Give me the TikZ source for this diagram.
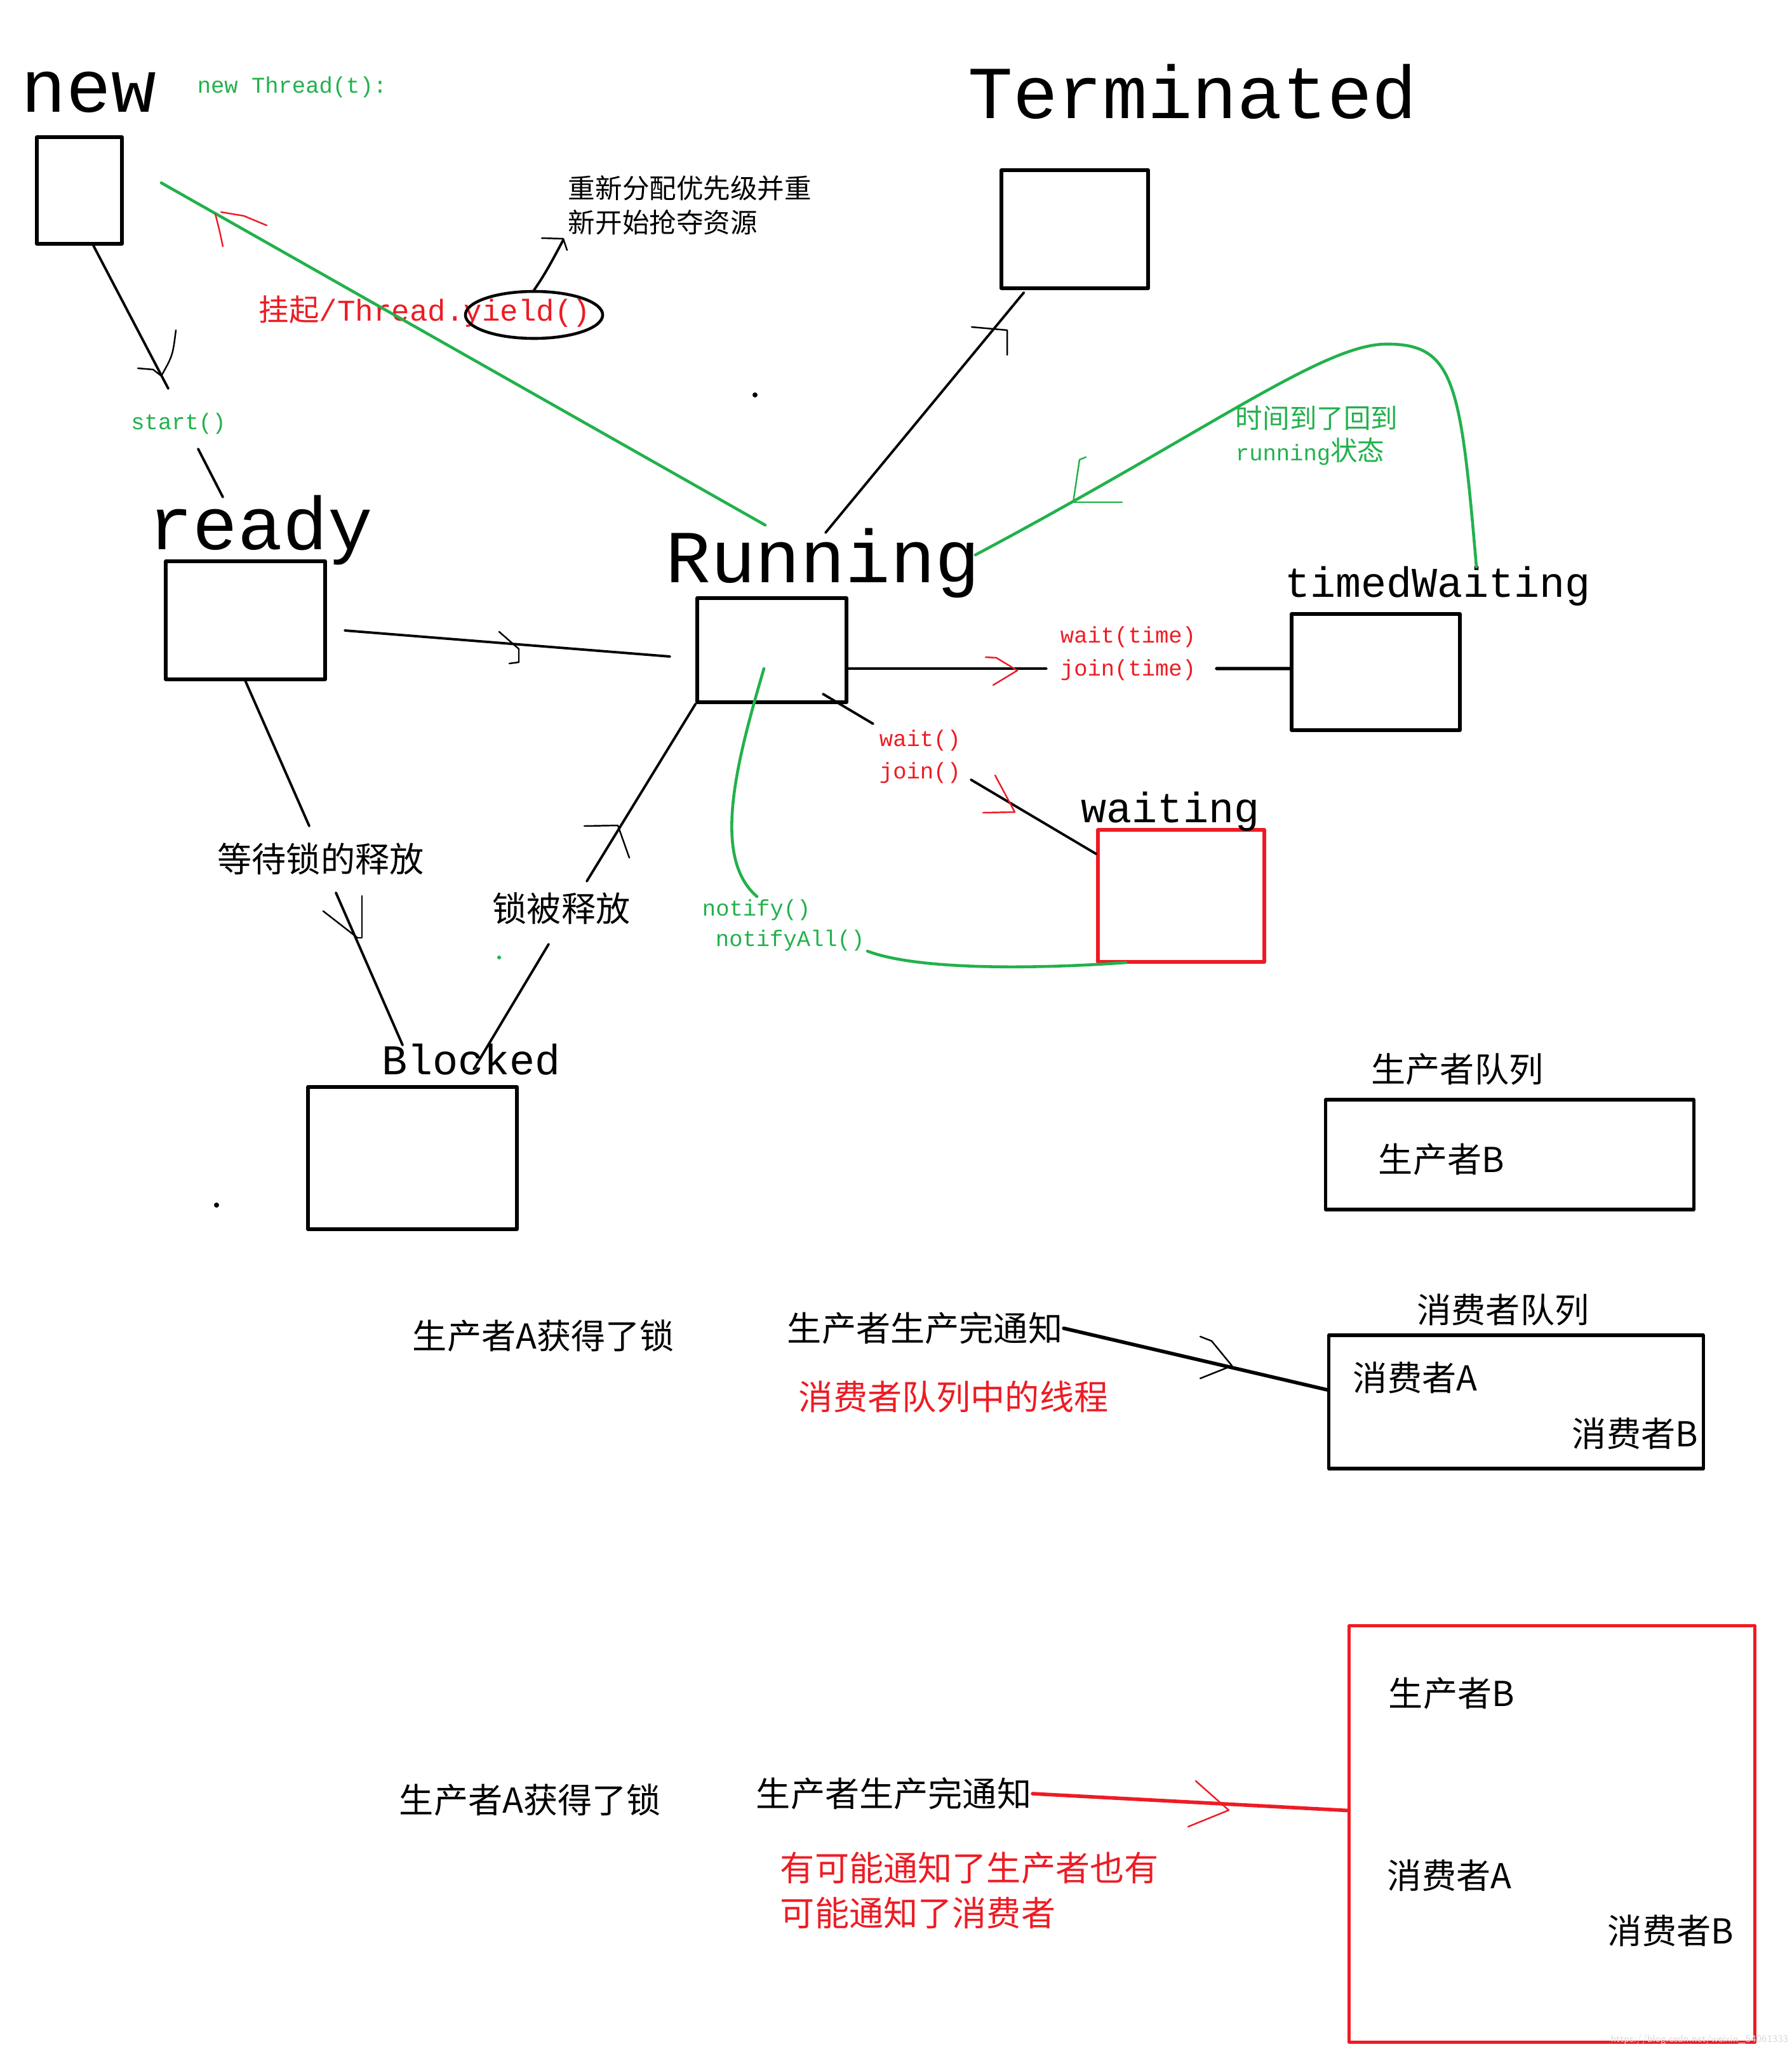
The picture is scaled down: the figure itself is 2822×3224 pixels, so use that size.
\documentclass[tikz,border=0pt]{standalone}
\usepackage{fontspec}
\setmainfont{Liberation Mono}
\newfontfamily\cjk{Noto Sans CJK SC}
\usetikzlibrary{shapes.geometric}
\definecolor{pgreen}{HTML}{22B14C}
\definecolor{pred}{HTML}{ED1C24}

\begin{document}
\begin{tikzpicture}[x=0.01cm,y=-0.01cm,line width=1.1pt,line cap=round,line join=round,
  box/.style={draw,line width=1.5pt,inner sep=0pt},
  redbox/.style={box,draw=pred},
  lbl/.style={inner sep=0pt},
  big/.style={lbl,font=\fontsize{33.5}{40}\selectfont},
  mid/.style={lbl,font=\fontsize{19}{23}\selectfont},
  tiny/.style={lbl,font=\fontsize{10.1}{12}\selectfont},
  hanzi/.style={lbl,font=\cjk\fontsize{15.4}{18}\selectfont},
  hanzis/.style={lbl,font=\cjk\fontsize{12.1}{15}\selectfont},
  gline/.style={draw=pgreen,line width=1.3pt},
  hand/.style={line width=0.7pt},
  ]
\useasboundingbox[fill=white] (0,0) rectangle (2822,3224);

%% states
\node[box,minimum width=1.34cm,minimum height=1.68cm] (new) at (125,300) {};
\node[box,minimum width=2.51cm,minimum height=1.86cm] (ready) at (386.5,977) {};
\node[box,minimum width=2.35cm,minimum height=1.64cm] (run) at (1215.5,1024) {};
\node[box,minimum width=2.31cm,minimum height=1.86cm] (term) at (1692.5,361) {};
\node[box,minimum width=2.65cm,minimum height=1.83cm] (timed) at (2166.5,1058.5) {};
\node[redbox,minimum width=2.62cm,minimum height=2.08cm] (wbox) at (1860,1411) {};
\node[box,minimum width=3.29cm,minimum height=2.24cm] (blocked) at (649.5,1824) {};

\node[big,anchor=base] (newlbl) at (140,176) {new};
\node[big,anchor=base] (termlbl) at (1878,186) {Terminated};
\node[big,anchor=base] (readylbl) at (410,865) {ready};
\node[big,anchor=base] (runlbl) at (1296,917) {Running};
\node[mid,anchor=base] (timedlbl) at (2264,940) {timedWaiting};
\node[mid,anchor=base] (wlbl) at (1843,1295) {waiting};
\node[mid,anchor=base] (blockedlbl) at (742,1692) {Blocked};

%% small labels
\node[tiny,text=pgreen] (newcall) at (460,137) {new Thread(t):};
\node[tiny,text=pgreen] (start) at (281,667) {start()};
\node[tiny,text=pred,anchor=west] (waitt) at (1668,1003) {wait(time)};
\node[tiny,text=pred,anchor=west] (joint) at (1668,1055) {join(time)};
\node[tiny,text=pred,anchor=west] (waitc) at (1383,1166) {wait()};
\node[tiny,text=pred,anchor=west] (joinc) at (1383,1217) {join()};
\node[tiny,text=pgreen,anchor=west] (notify) at (1104,1433) {notify()};
\node[tiny,text=pgreen,anchor=west] (notifyall) at (1125,1481) {notifyAll()};
\node[hanzis,text=pgreen,anchor=west] (timeup) at (1944,658) {时间到了回到};
\node[tiny,text=pgreen,anchor=west] (backrun) at (1944,711) {running{\cjk\fontsize{12.1}{15}\selectfont 状态}};
\node[hanzis,anchor=west] (regrab1) at (893,296) {重新分配优先级并重};
\node[hanzis,anchor=west] (regrab2) at (893,350) {新开始抢夺资源};
\node[lbl,text=pred,anchor=west,font=\fontsize{13.5}{16}\selectfont] (yield) at (406,490) {{\cjk 挂起}/Thread.yield()};
\node[draw,ellipse,line width=1.3pt,minimum width=2.16cm,minimum height=0.74cm] (ring) at (841,496) {};
\node[hanzi] (waitlock) at (505,1353) {等待锁的释放};
\node[hanzi] (released) at (884,1431) {锁被释放};

%% queues
\node[box,minimum width=5.79cm,minimum height=1.73cm] (prodq) at (2377.5,1818.5) {};
\node[box,minimum width=5.89cm,minimum height=2.10cm] (consq) at (2387.5,2208) {};
\node[redbox,minimum width=6.38cm,minimum height=6.55cm] (allq) at (2444,2888.5) {};
\node[hanzi] (prodqlbl) at (2295,1684) {生产者队列};
\node[hanzi,anchor=west] (prodB) at (2169,1826) {生产者B};
\node[hanzi,anchor=west] (prodA) at (648,2104) {生产者A获得了锁};
\node[hanzi,anchor=west] (done) at (1238,2092) {生产者生产完通知};
\node[hanzi,anchor=west,text=pred] (inq) at (1256,2200) {消费者队列中的线程};
\node[hanzi] (consqlbl) at (2367,2063) {消费者队列};
\node[hanzi,anchor=west] (consA) at (2129,2170) {消费者A};
\node[hanzi,anchor=west] (consB) at (2474,2258) {消费者B};
\node[hanzi,anchor=west] (prodA2) at (627,2835) {生产者A获得了锁};
\node[hanzi,anchor=west] (done2) at (1189,2825) {生产者生产完通知};
\node[hanzi,anchor=west,text=pred] (maybe1) at (1227,2942) {有可能通知了生产者也有};
\node[hanzi,anchor=west,text=pred] (maybe2) at (1227,3013) {可能通知了消费者};
\node[hanzi,anchor=west] (prodB2) at (2185,2667) {生产者B};
\node[hanzi,anchor=west] (consA2) at (2183,2954) {消费者A};
\node[hanzi,anchor=west] (consB2) at (2530,3041) {消费者B};

%% free ends
\coordinate (c1) at (265,612);
\coordinate (c2) at (312,707);
\coordinate (c3) at (351,783);
\coordinate (g1) at (254,288);
\coordinate (g2) at (1205,827);
\coordinate (c4) at (1300,839);
\coordinate (c5) at (543,993);
\coordinate (c6) at (1055,1034);
\coordinate (c7) at (487,1301);
\coordinate (c8) at (529,1406);
\coordinate (c9) at (634,1646);
\coordinate (c10) at (924,1388);
\coordinate (c11) at (864,1487);
\coordinate (c12) at (746,1684);
\coordinate (c13) at (1648,1053);
\coordinate (c14) at (1916,1053);
\coordinate (c15) at (1296,1093);
\coordinate (c16) at (1375,1140);
\coordinate (c17) at (1529,1228);
\coordinate (g3) at (1203,1053);
\coordinate (g4) at (1192,1412);
\coordinate (g5) at (1366,1498);
\coordinate (g6) at (1773,1516);
\coordinate (g7) at (2325,893);
\coordinate (g8) at (2180,542);
\coordinate (g9) at (1536,874);

%% connectors
\draw ([xshift=0.22cm]new.south) -- (c1);
\draw (c2) -- (c3);
\draw[gline] (g1) -- (g2);
\draw (c4) -- ([xshift=0.38cm,yshift=-0.04cm]term.south west);
\draw (c5) -- (c6);
\draw (ready.south) -- (c7);
\draw (c8) -- (c9);
\draw (run.south west) -- (c10);
\draw (c11) -- (c12);
\draw ([yshift=-0.29cm]run.east) -- (c13);
\draw[line width=1.5pt] (c14) -- ([yshift=0.055cm]timed.west);
\draw (c15) -- (c16);
\draw (c17) -- ([yshift=0.66cm]wbox.west);
\draw[gline] (g3) .. controls (1160,1200) and (1120,1350) .. (g4);
\draw[gline] (g5) .. controls (1450,1530) and (1650,1525) .. (g6);
\draw[gline] (g7) .. controls (2300,600) and (2290,540) .. (g8)
  .. controls (2080,545) and (1900,680) .. (g9);
\draw[line width=1.6pt] (done.east) -- ([yshift=0.19cm]consq.west);
\draw[line width=1.6pt,pred] (done2.east) -- ([yshift=0.37cm]allq.west);
\draw (ring.north) .. controls (860,430) and (875,400) .. (887,378);

%% hand drawn arrow marks
\draw[hand,pred] (339,337) .. controls (345,360) .. (351,388);
\draw[hand,pred] (348,334) -- (384,340) -- (420,355);
\draw[hand] (277,520) .. controls (272,560) .. (254,592);
\draw[hand] (217,580) -- (241,582) -- (254,592);
\draw[hand] (786,995) -- (817,1022) -- (817,1043) -- (802,1045);
\draw[hand] (1530,515) -- (1586,520) -- (1586,559);
\draw[hand,pgreen] (1710,720) -- (1700,724) -- (1690,791) -- (1767,791);
\draw[hand,pred] (1552,1035) -- (1569,1036) -- (1602,1056) -- (1564,1079);
\draw[hand,pred] (1567,1221) -- (1598,1279) -- (1548,1280);
\draw[hand] (509,1435) -- (563,1477);
\draw[hand] (570,1411) -- (570,1477) -- (563,1477);
\draw[hand] (920,1301) -- (973,1300) -- (991,1351);
\draw[hand] (853,375) -- (887,376) -- (893,394);
\draw[hand] (1890,2105) -- (1908,2112) -- (1940,2151) -- (1890,2171);
\draw[hand,pred] (1883,2805) -- (1935,2851) -- (1871,2877);

%% stray dots
\fill (1189,622) circle (0.04cm);
\fill[pgreen] (786,1508) circle (0.03cm);
\fill (341,1898) circle (0.04cm);

\node[lbl,text=black!15,font=\sffamily\fontsize{4.5}{5}\selectfont,anchor=south east] (wm) at (2818,3222) {https://blog.csdn.net/weixin\_54061333};
\end{tikzpicture}
\end{document}
